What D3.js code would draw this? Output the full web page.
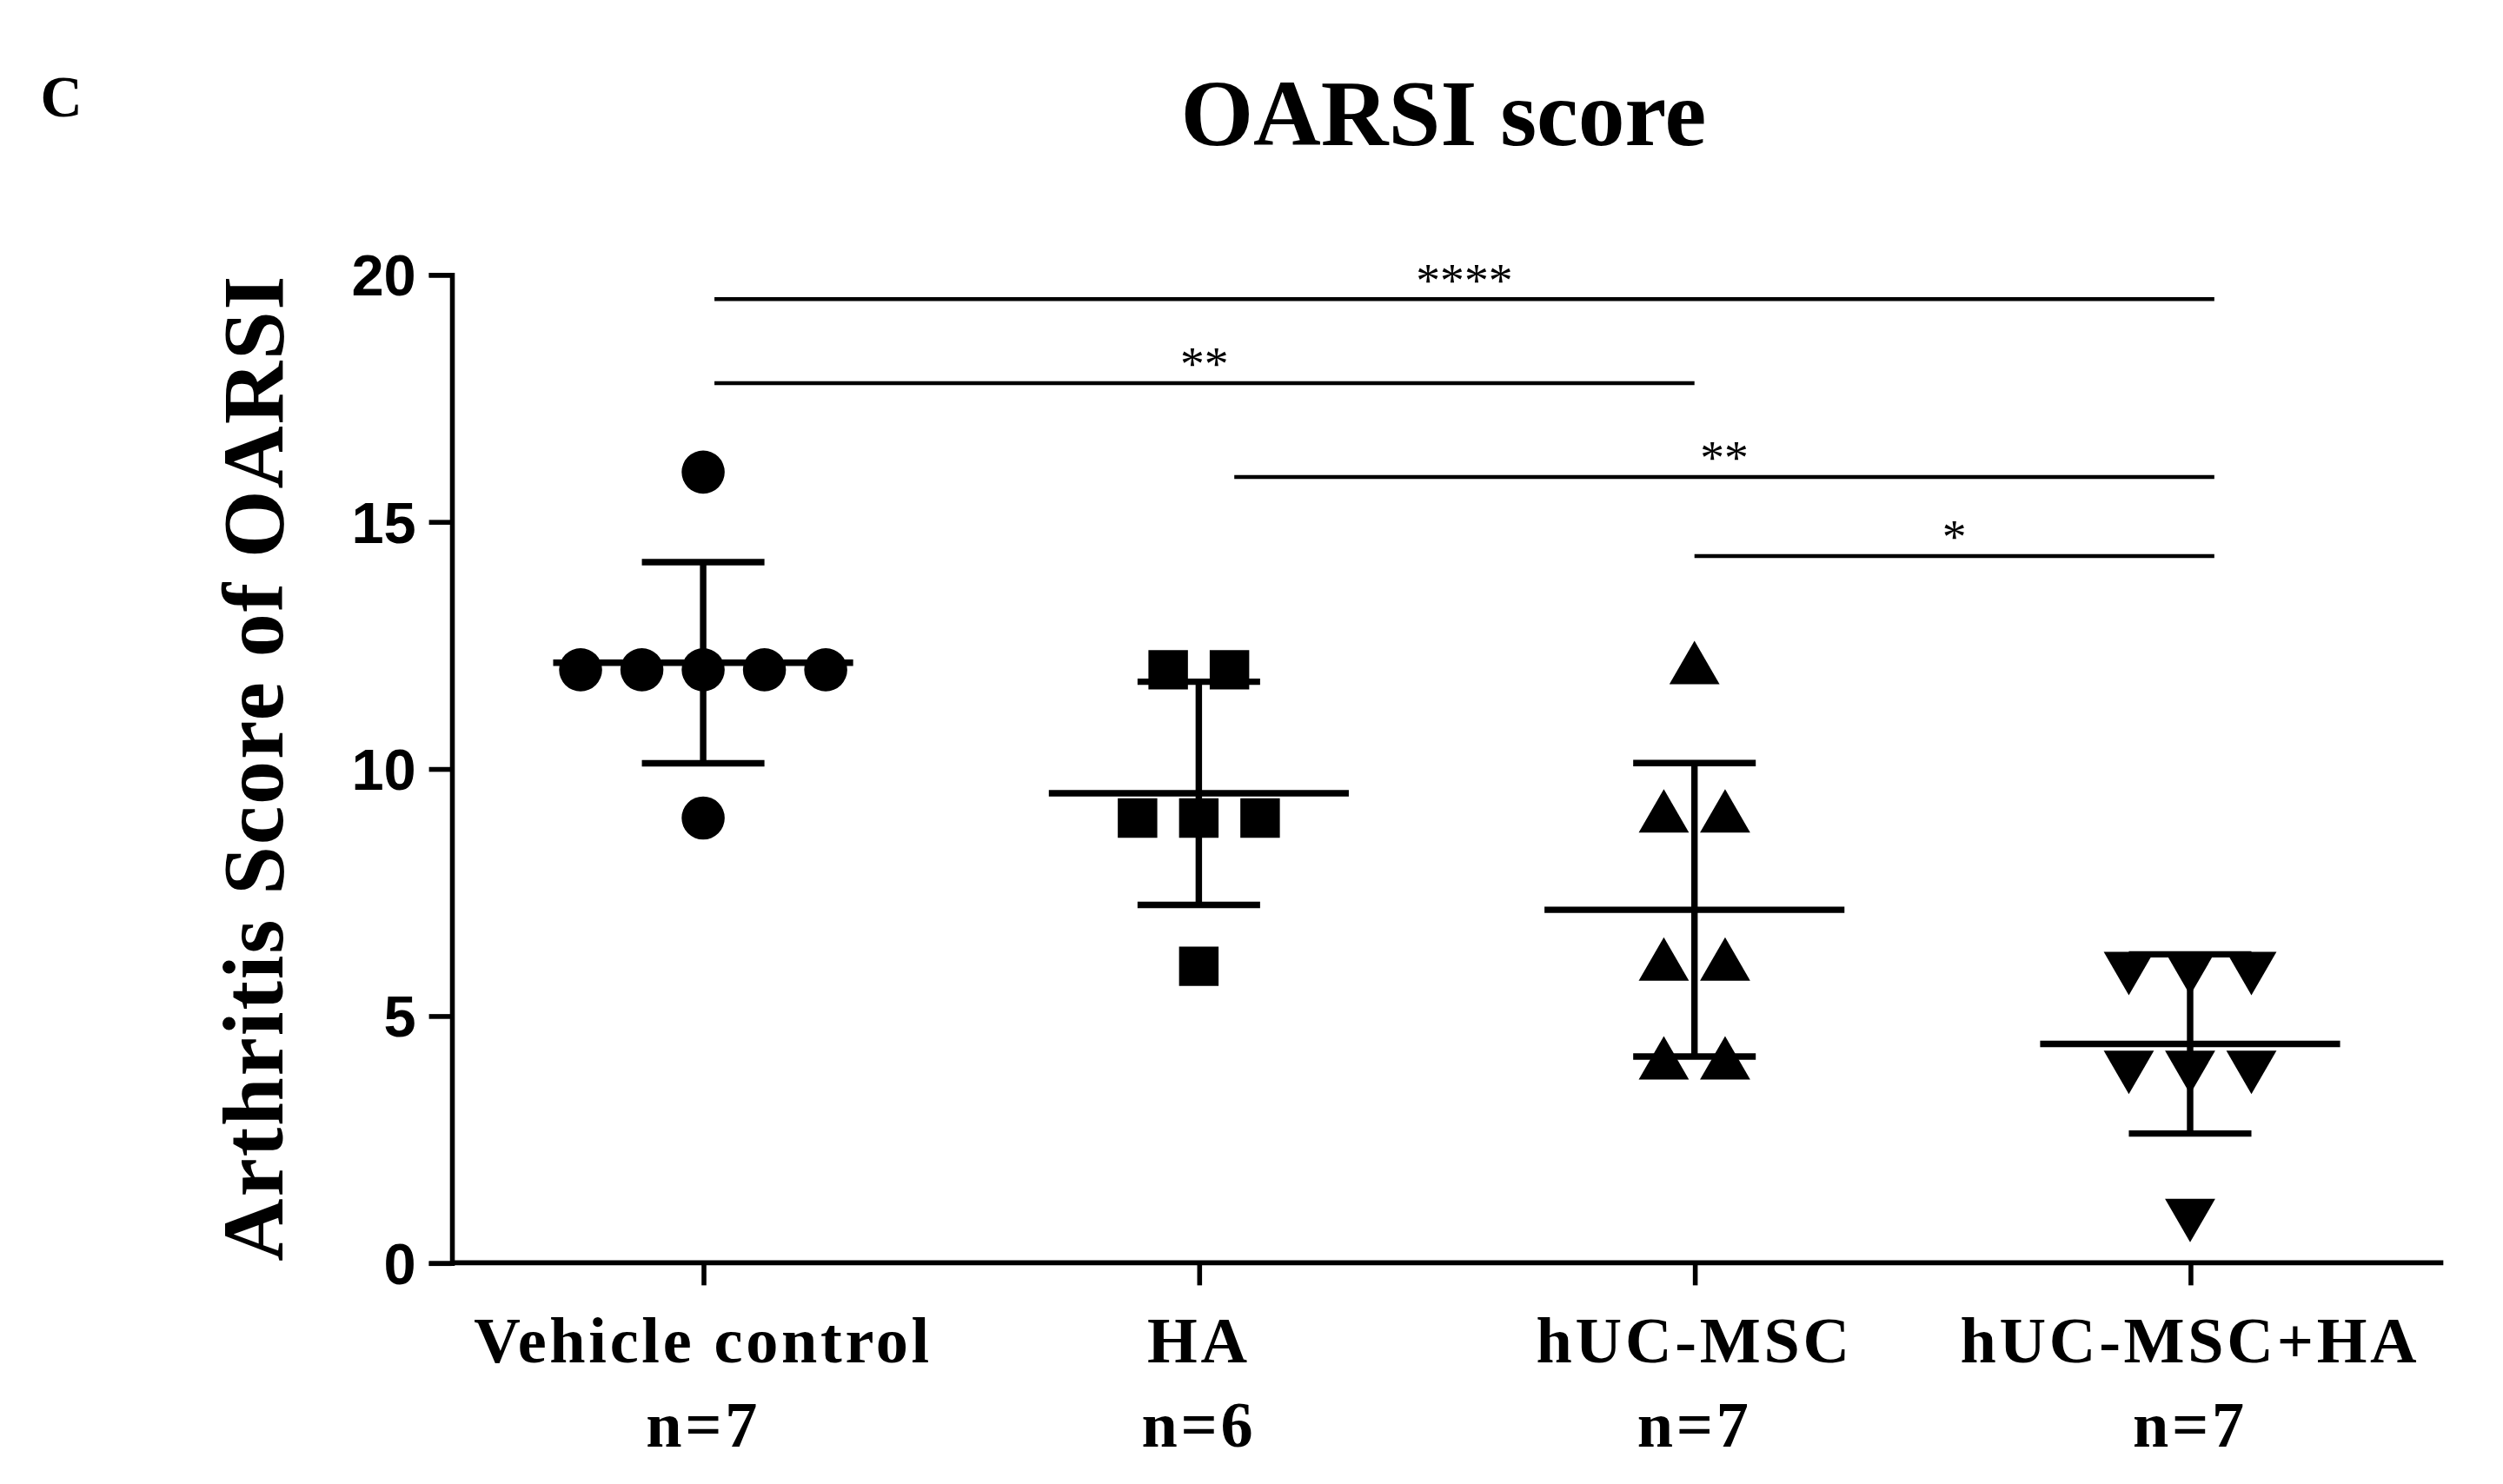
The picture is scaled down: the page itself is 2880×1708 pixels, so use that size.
<!DOCTYPE html>
<html><head><meta charset="utf-8">
<script src="https://cdn.jsdelivr.net/npm/d3@7"></script>
<style>body{margin:0;background:#fff}</style>
</head><body><div id="chart"></div>
<script>
// data
var groups = ["Vehicle control", "HA", "hUC-MSC", "hUC-MSC+HA"];
var nLabels = ["n=7", "n=6", "n=7", "n=7"];
var shapes = ["circle", "square", "triangle", "triangleDown"];
var vehicle = [16, 12, 12, 12, 12, 12, 9];
var ha = [12, 12, 9, 9, 9, 6];
var msc = [12, 9, 9, 6, 6, 4, 4];
var mscHa = [6, 6, 6, 4, 4, 4, 1];
var yTicks = [0, 5, 10, 15, 20];
var sigFrom = [0, 0, 1, 2];
var sigTo = [3, 2, 3, 3];
var sigY = [19.5, 17.8, 15.9, 14.3];
var sigText = ["****", "**", "**", "*"];

var values = [vehicle, ha, msc, mscHa];
var serif = "'Liberation Serif','DejaVu Serif',serif";

var svg = d3.select("#chart").append("svg")
    .attr("width", 2880).attr("height", 1708)
    .attr("viewBox", "0 0 1552 920");

var x = d3.scalePoint().domain(groups).range([436, 1358]);
var y = d3.scaleLinear().domain([0, 20]).range([783, 170]);

svg.append("text").attr("x", 25).attr("y", 72).text("C")
    .style("font-family", serif).style("font-weight", "bold").style("font-size", "36px");
svg.append("text").attr("x", 895).attr("y", 90).attr("text-anchor", "middle").text("OARSI score")
    .style("font-family", serif).style("font-weight", "bold").style("font-size", "58px");
svg.append("text").attr("transform", "translate(175,476) rotate(-90)").attr("text-anchor", "middle")
    .text("Arthritis Score of OARSI")
    .style("font-family", serif).style("font-weight", "bold").style("font-size", "54px")
    .style("letter-spacing", "1px");

// y axis
var ya = svg.append("g").attr("transform", "translate(280,0)")
    .call(d3.axisLeft(y).tickValues(yTicks).tickSize(14).tickPadding(8));
ya.selectAll("text").style("font-family", "'Liberation Sans',Arial,sans-serif")
    .style("font-weight", "bold").style("font-size", "36px").attr("dy", "0.35em");

// x axis
var xa = svg.append("g").attr("transform", "translate(0,783)")
    .call(d3.axisBottom(x).tickSize(14).tickFormat(""));
xa.select(".domain").attr("d", "M280,0H1515");
svg.selectAll(".domain,.tick line").attr("stroke", "#000").attr("stroke-width", 3);

groups.forEach(function(g, i) {
  svg.append("text").attr("x", x(g)).attr("y", 845).attr("text-anchor", "middle").text(g)
      .style("font-family", serif).style("font-weight", "bold").style("font-size", "40px")
      .style("letter-spacing", "2px");
  svg.append("text").attr("x", x(g)).attr("y", 897).attr("text-anchor", "middle").text(nLabels[i])
      .style("font-family", serif).style("font-weight", "bold").style("font-size", "40px")
      .style("letter-spacing", "2px");

  var vals = values[i];
  var mean = d3.mean(vals), sd = d3.deviation(vals);
  var cx = x(g);
  var ln = function(x1, y1, x2, y2) {
    svg.append("line").attr("x1", x1).attr("y1", y1).attr("x2", x2).attr("y2", y2)
        .attr("stroke", "#000").attr("stroke-width", 4);
  };

  // points, spread sideways within equal values
  var counts = d3.rollup(vals, function(v) { return v.length; }, function(d) { return d; });
  var seen = new Map();
  var sym = {
    circle: d3.symbol(d3.symbolCircle, 560),
    square: d3.symbol(d3.symbolSquare, 600),
    triangle: d3.symbol(d3.symbolTriangle, 420),
    triangleDown: d3.symbol(d3.symbolTriangle, 420)
  }[shapes[i]];
  vals.forEach(function(v) {
    var k = counts.get(v), j = seen.get(v) || 0;
    seen.set(v, j + 1);
    var px = cx + (j - (k - 1) / 2) * 38;
    svg.append("path").attr("d", sym())
        .attr("transform", "translate(" + px + "," + y(v) + ")" + (shapes[i] === "triangleDown" ? " rotate(180)" : ""))
        .attr("fill", "#000");
  });

  ln(cx - 93, y(mean), cx + 93, y(mean));
  ln(cx, y(mean + sd), cx, y(mean - sd));
  ln(cx - 38, y(mean + sd), cx + 38, y(mean + sd));
  ln(cx - 38, y(mean - sd), cx + 38, y(mean - sd));
});

// significance bars
sigText.forEach(function(t, i) {
  var x1 = x(groups[sigFrom[i]]) + (sigFrom[i] === 0 ? 7 : sigFrom[i] === 1 ? 22 : 0);
  var x2 = x(groups[sigTo[i]]) + (sigTo[i] === 3 ? 15 : 0);
  svg.append("line").attr("x1", x1).attr("x2", x2).attr("y1", y(sigY[i])).attr("y2", y(sigY[i]))
      .attr("stroke", "#000").attr("stroke-width", 2.5);
  svg.append("text").attr("x", (x1 + x2) / 2).attr("y", y(sigY[i]) - 2).attr("text-anchor", "middle")
      .text(t).style("font-family", serif).style("font-size", "30px");
});
</script></body></html>
